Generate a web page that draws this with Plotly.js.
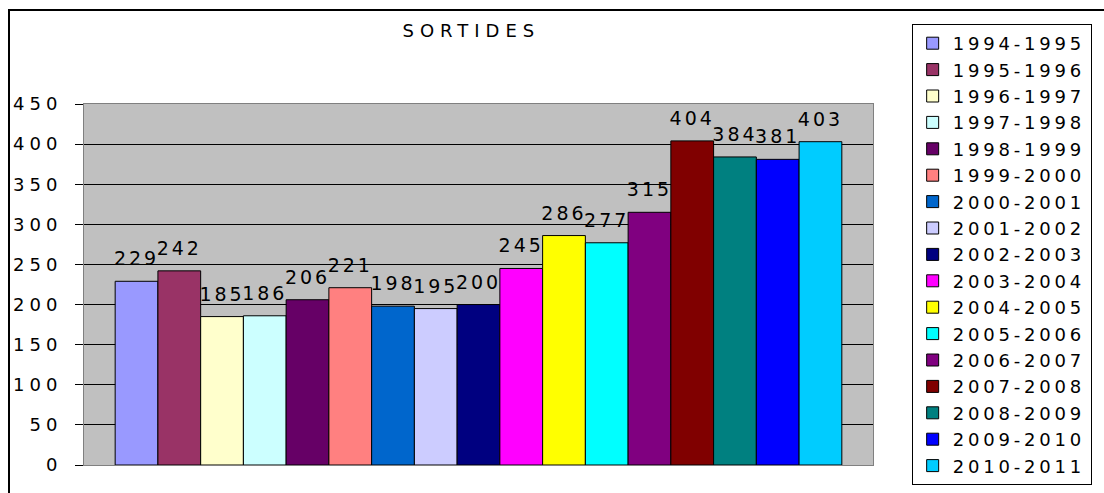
<!DOCTYPE html>
<html>
<head>
<meta charset="utf-8">
<script src="https://cdn.plot.ly/plotly-3.0.1.min.js"></script>
<style>
  html, body { margin: 0; padding: 0; background: #fff; overflow: hidden; }
  #wrap { position: relative; width: 1104px; height: 493px; }
  #chart { position: absolute; left: 0; top: 0; width: 1104px; height: 493px; }
  #frame { position: absolute; left: 8px; top: 9px; width: 1200px; height: 600px;
           border-top: 2px solid #000; border-left: 2px solid #000; pointer-events: none; }
  .ytick text { letter-spacing: 5px; }
  .legendtext { letter-spacing: 3.8px; }
  .gtitle { letter-spacing: 6px; }
  .bartext { letter-spacing: 3px; }
</style>
</head>
<body>
<div id="wrap">
  <div id="chart"></div>
  <div id="frame"></div>
</div>
<script>
const seasons = ["1994-1995","1995-1996","1996-1997","1997-1998","1998-1999","1999-2000",
  "2000-2001","2001-2002","2002-2003","2003-2004","2004-2005","2005-2006","2006-2007",
  "2007-2008","2008-2009","2009-2010","2010-2011"];
const sortides = [229,242,185,186,206,221,198,195,200,245,286,277,315,404,384,381,403];
const colors = ["#9999FF","#993366","#FFFFCC","#CCFFFF","#660066","#FF8080","#0066CC",
  "#CCCCFF","#000080","#FF00FF","#FFFF00","#00FFFF","#800080","#800000","#008080",
  "#0000FF","#00CCFF"];
const category = ["SORTIDES"];
const yTicks = [0,50,100,150,200,250,300,350,400,450];

const FONT = "'DejaVu Sans', Arial, sans-serif";

const traces = seasons.map((s, i) => ({
  type: "bar",
  name: s,
  x: category,
  y: [sortides[i]],
  marker: { color: colors[i], line: { color: "#000", width: 1 } },
  texttemplate: "%{y}",
  textposition: "outside",
  constraintext: "none",
  cliponaxis: false,
  textfont: { family: FONT, size: 19, color: "#000" },
  hoverinfo: "none"
}));

const layout = {
  width: 1104, height: 493,
  margin: { l: 84, r: 231, t: 104, b: 28 },
  paper_bgcolor: "rgba(0,0,0,0)",
  plot_bgcolor: "#C0C0C0",
  font: { family: FONT, size: 18, color: "#000" },
  title: {
    text: "SORTIDES",
    font: { family: FONT, size: 18, color: "#000" },
    xref: "container", x: 0.427, xanchor: "center",
    yref: "container", y: 0.938, yanchor: "middle"
  },
  barmode: "group",
  bargap: 0.079,
  bargroupgap: 0,
  xaxis: {
    type: "category",
    showticklabels: false,
    ticks: "",
    showgrid: false,
    showline: true, mirror: true, linecolor: "#808080", linewidth: 1,
    fixedrange: true
  },
  yaxis: {
    range: [0, 450],
    tickvals: yTicks,
    ticktext: yTicks.map(String),
    showgrid: true, gridcolor: "#000", gridwidth: 1,
    zeroline: false,
    showline: true, mirror: true, linecolor: "#808080", linewidth: 1,
    ticks: "outside", ticklen: 8, tickcolor: "#000", tickwidth: 1,
    ticklabelstandoff: 9,
    tickfont: { family: FONT, size: 18, color: "#000" },
    fixedrange: true
  },
  showlegend: true,
  legend: {
    x: 1.049, xanchor: "left",
    y: 1.2216, yanchor: "top",
    maxheight: 493,
    bgcolor: "#fff",
    bordercolor: "#000", borderwidth: 1,
    font: { family: FONT, size: 18, color: "#000" },
    traceorder: "normal"
  }
};

Plotly.newPlot("chart", traces, layout, { displayModeBar: false, staticPlot: true }).then(() => {
  // Excel places value labels a little higher above the bar tops
  document.querySelectorAll("#chart .bartext").forEach(t => {
    const y = parseFloat(t.getAttribute("y") || "0");
    t.setAttribute("y", String(y - 9));
  });
});
</script>
</body>
</html>
